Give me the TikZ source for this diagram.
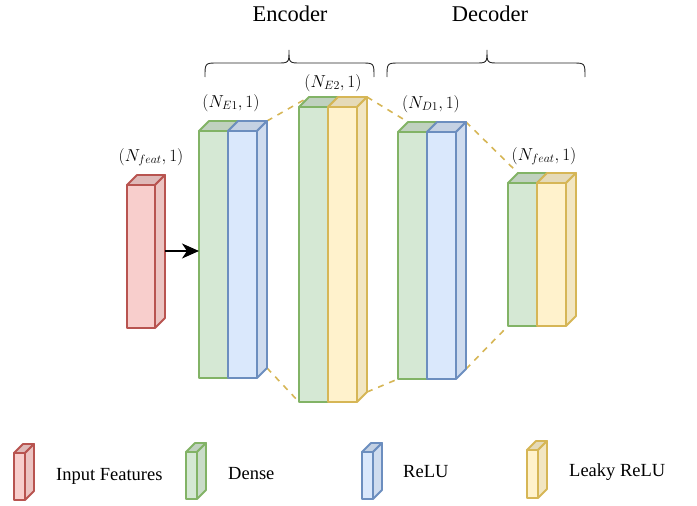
\documentclass[tikz,border=0pt]{standalone}
\usepackage{fontspec}
\setmainfont{Liberation Serif}
\usetikzlibrary{arrows.meta,calc,backgrounds}
\definecolor{redF}{HTML}{F8CECC}\definecolor{redS}{HTML}{B85450}
\definecolor{grnF}{HTML}{D5E8D4}\definecolor{grnS}{HTML}{82B366}
\definecolor{bluF}{HTML}{DAE8FC}\definecolor{bluS}{HTML}{6C8EBF}
\definecolor{ylwF}{HTML}{FFF2CC}\definecolor{ylwS}{HTML}{D6B656}
\tikzset{
  face/.style={draw, line width=1.8pt, inner sep=0pt, outer sep=0pt, rectangle, line join=round},
  lbl/.style={font=\fontsize{17.5}{20}\selectfont},
  ttl/.style={font=\fontsize{22.5}{26}\selectfont, anchor=base},
  leg/.style={font=\fontsize{18.5}{22}\selectfont, anchor=base west, inner sep=0pt},
  conn/.style={draw=ylwS, line width=1.6pt, dash pattern=on 6pt off 6pt},
  bracepath/.style={line width=0.9pt, draw=black!85},
  flow/.style={line width=1.6pt, -{Stealth[length=17pt,width=15pt,inset=5pt]}},
}
\newcommand\cubeface[7]{%
  \node[face, draw=#7S, fill=#7F, minimum width=#4pt, minimum height=#5pt, anchor=north west] (#1) at (#2,#3) {};
  \coordinate (#1tl) at ($(#1.north west)+(#6,-#6)$);
  \coordinate (#1tr) at ($(#1.north east)+(#6,-#6)$);
  \coordinate (#1br) at ($(#1.south east)+(#6,-#6)$);
  \draw[face, draw=#7S, fill=#7F!90!black] (#1.north west) -- (#1tl) -- (#1tr) -- (#1.north east) -- cycle;
}
\newcommand\cubeside[2]{%
  \draw[face, draw=#2S, fill=#2F!95!black] (#1.north east) -- (#1tr) -- (#1br) -- (#1.south east) -- cycle;
}
\begin{document}
\begin{tikzpicture}[x=1pt,y=-1pt]
\useasboundingbox (0,0) rectangle (697,506);
% titles
\node[ttl] (enc) at (290,21) {Encoder};
\node[ttl] (dec) at (490,21) {Decoder};
% braces
\draw[bracepath] (205,77) .. controls (205,63) .. (218,63) -- (277,63) .. controls (289,63) .. (289,50)
  .. controls (289,63) .. (301,63) -- (361,63) .. controls (374,63) .. (374,77);
\draw[bracepath] (387,77) .. controls (387,63) .. (400,63) -- (475,63) .. controls (487,63) .. (487,50)
  .. controls (487,63) .. (499,63) -- (572,63) .. controls (585,63) .. (585,77);
% input
\cubeface{inp}{127}{185}{28}{143}{10}{red}
\cubeside{inp}{red}
% encoder 1
\cubeface{eag}{199}{131}{29}{247}{10}{grn}
\cubeface{eab}{228}{131}{29}{247}{10}{blu}
\cubeside{eab}{blu}
% encoder 2
\cubeface{ebg}{299}{107}{29}{295}{10}{grn}
\cubeface{eby}{328}{107}{29}{295}{10}{ylw}
\cubeside{eby}{ylw}
% decoder 1
\cubeface{dag}{398}{132}{29}{247}{10}{grn}
\cubeface{dab}{427}{132}{29}{247}{10}{blu}
\cubeside{dab}{blu}
% decoder 2
\cubeface{dbg}{508}{183}{29}{143}{10}{grn}
\cubeface{dby}{537}{183}{29}{143}{10}{ylw}
\cubeside{dby}{ylw}
% dashed connectors
\begin{pgfonlayer}{background}
\draw[conn] (eabtr) -- (ebgtl);
\draw[conn] (ebytr) -- (dagtl);
\draw[conn] (dabtr) -- (dbgtl);
\draw[conn] (eabbr) -- (ebg.south west);
\draw[conn] (ebybr) -- (dag.south west);
\draw[conn] (dabbr) -- (dbg.south west);
\end{pgfonlayer}
% arrow
\coordinate (inpa) at ($(inp.east)+(10,-5.5)$);
\draw[flow] (inpa) -- (inpa -| eag.west);
% shape labels
\node[lbl] (linp) at (151,157) {$(N_{feat},1)$};
\node[lbl] (lea) at (231,103) {$(N_{E1},1)$};
\node[lbl] (leb) at (333,83) {$(N_{E2},1)$};
\node[lbl] (lda) at (431,104) {$(N_{D1},1)$};
\node[lbl] (ldb) at (544,156) {$(N_{feat},1)$};
% legend
\cubeface{kinp}{14}{453}{11}{47}{9}{red}
\cubeside{kinp}{red}
\node[leg] (tinp) at (56,480) {Input Features};
\cubeface{kden}{186}{452}{11}{47}{9}{grn}
\cubeside{kden}{grn}
\node[leg] (tden) at (228,479) {Dense};
\cubeface{krel}{362}{452}{11}{47}{9}{blu}
\cubeside{krel}{blu}
\node[leg] (trel) at (403,477) {ReLU};
\cubeface{klky}{527}{450}{11}{48}{9}{ylw}
\cubeside{klky}{ylw}
\node[leg] (tlky) at (569,476) {Leaky ReLU};
\end{tikzpicture}
\end{document}
